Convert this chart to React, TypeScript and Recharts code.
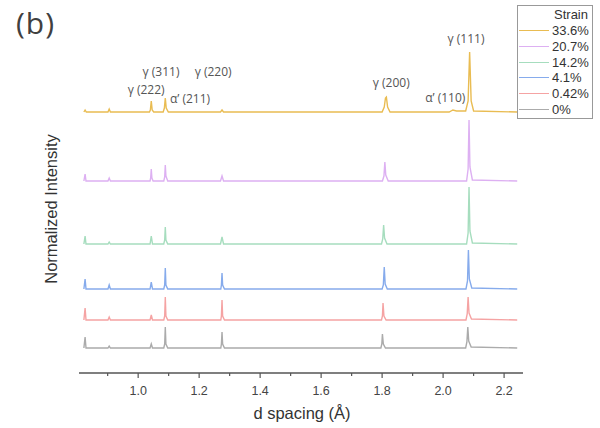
import React from 'react';
import { LineChart, Line, XAxis, YAxis, ReferenceDot } from 'recharts';

// d spacing (Å) vs stacked normalized intensity (offset per strain level)
const strain336 = [
  [0.822, 261], [0.826, 263], [0.830, 261], [0.901, 261], [0.905, 264], [0.909, 261],
  [1.037, 261], [1.040, 263], [1.043, 272], [1.046, 263], [1.051, 261],
  [1.082, 261], [1.086, 265], [1.089, 275], [1.092, 265], [1.099, 261],
  [1.270, 261], [1.275, 263], [1.280, 261],
  [1.800, 261], [1.807, 266], [1.811, 275], [1.814, 276], [1.818, 266], [1.826, 261],
  [2.020, 261], [2.032, 263], [2.044, 262], [2.074, 262], [2.082, 272], [2.087, 321], [2.092, 272], [2.100, 262],
  [2.243, 261],
];
const strain207 = [
  [0.822, 192], [0.826, 199], [0.829, 192], [0.901, 192], [0.905, 195], [0.909, 192],
  [1.039, 192], [1.041, 195], [1.043, 204], [1.045, 195], [1.049, 192],
  [1.084, 192], [1.087, 196], [1.089, 208], [1.091, 197], [1.097, 192],
  [1.270, 192], [1.275, 197], [1.280, 192],
  [1.801, 192], [1.806, 197], [1.809, 211], [1.812, 198], [1.820, 192],
  [2.077, 192], [2.082, 204], [2.085, 253], [2.088, 206], [2.096, 193], [2.243, 192],
];
const strain142 = [
  [0.822, 129], [0.826, 137], [0.829, 129], [0.901, 129], [0.905, 131], [0.909, 129],
  [1.039, 129], [1.043, 137], [1.047, 129],
  [1.084, 129], [1.087, 133], [1.089, 146], [1.091, 133], [1.097, 129],
  [1.270, 129], [1.275, 136], [1.280, 129],
  [1.798, 129], [1.802, 134], [1.805, 148], [1.808, 135], [1.816, 129],
  [2.077, 129], [2.082, 140], [2.085, 186], [2.088, 142], [2.096, 130], [2.243, 129],
];
const strain41 = [
  [0.822, 84], [0.826, 94], [0.829, 84], [0.901, 84], [0.905, 88], [0.909, 84],
  [1.039, 84], [1.043, 91], [1.047, 84],
  [1.084, 84], [1.087, 88], [1.089, 105], [1.091, 88], [1.097, 84],
  [1.271, 84], [1.273, 88], [1.275, 100], [1.277, 88], [1.283, 84],
  [1.800, 84], [1.804, 88], [1.807, 106], [1.810, 89], [1.817, 84],
  [2.075, 84], [2.080, 92], [2.083, 123], [2.086, 94], [2.094, 85], [2.243, 84],
];
const strain042 = [
  [0.822, 53], [0.826, 65], [0.829, 53], [0.901, 53], [0.905, 56], [0.909, 53],
  [1.039, 53], [1.043, 58], [1.047, 53],
  [1.084, 53], [1.087, 57], [1.089, 76], [1.091, 57], [1.097, 53],
  [1.271, 53], [1.273, 57], [1.275, 73], [1.277, 57], [1.283, 53],
  [1.798, 53], [1.801, 57], [1.803, 70], [1.806, 57], [1.813, 53],
  [2.075, 53], [2.079, 59], [2.082, 76], [2.085, 60], [2.093, 54], [2.243, 53],
];
const strain0 = [
  [0.822, 25], [0.826, 36], [0.829, 25], [0.901, 25], [0.905, 27], [0.909, 25],
  [1.039, 25], [1.043, 29], [1.047, 25],
  [1.084, 25], [1.087, 29], [1.089, 46], [1.091, 29], [1.097, 25],
  [1.271, 25], [1.273, 29], [1.275, 41], [1.277, 29], [1.283, 25],
  [1.796, 25], [1.799, 29], [1.801, 39], [1.804, 29], [1.811, 25],
  [2.074, 25], [2.078, 31], [2.081, 46], [2.084, 32], [2.092, 26], [2.243, 25],
];

const strainLabels = ['33.6%', '20.7%', '14.2%', '4.1%', '0.42%', '0%'];
const strainColors = ['#E9BC52', '#DDB0F2', '#A6DDBE', '#86ABEC', '#F5A3A3', '#ABABAB'];
const strainSeries = [strain336, strain207, strain142, strain41, strain042, strain0];

const majorTicks = [1.0, 1.2, 1.4, 1.6, 1.8, 2.0, 2.2];
const minorTicks = [0.9, 1.1, 1.3, 1.5, 1.7, 1.9, 2.1];

// peak labels: [text, d, y]
const peakNotes: [string, number, number][] = [
  ['γ (111)', 2.075, 334],
  ['γ (200)', 1.830, 290],
  ['α’ (110)', 2.007, 275],
  ['γ (222)', 1.026, 283],
  ['γ (311)', 1.075, 301],
  ['γ (220)', 1.246, 301],
  ['α’ (211)', 1.170, 274],
];

const AXIS = '#555';
const TEXT = '#444';

const seriesData = strainSeries.map((s) => s.map(([d, v]) => ({ d, v })));

const DTick = (props: any) => {
  const { x, y, payload } = props;
  const major = majorTicks.includes(payload.value);
  return (
    <g>
      <line x1={x} x2={x} y1={y} y2={y + (major ? 5 : 3)} stroke={AXIS} strokeWidth={1.2} />
      {major && (
        <text x={x} y={y + 22} textAnchor="middle" fontSize={12.5} fill={TEXT} fontFamily="'Liberation Sans', Arial, sans-serif">
          {payload.value.toFixed(1)}
        </text>
      )}
    </g>
  );
};

export default function App() {
  return (
    <div style={{ position: 'absolute', left: 0, top: 0, width: 600, height: 428, background: '#fff', fontFamily: "'Liberation Sans', Arial, sans-serif" }}>
      <LineChart width={600} height={428} margin={{ top: 45, right: 77, bottom: 25, left: 79 }}>
        <XAxis
          type="number"
          dataKey="d"
          domain={[0.806, 2.262]}
          allowDataOverflow
          ticks={[...minorTicks, ...majorTicks].sort((a, b) => a - b)}
          interval={0}
          tickSize={0}
          tickMargin={0}
          tickLine={false}
          tick={<DTick />}
          height={30}
          axisLine={{ stroke: AXIS, strokeWidth: 1.5 }}
        />
        <YAxis
          type="number"
          domain={[0, 328]}
          allowDataOverflow
          width={0}
          tick={false}
          tickLine={false}
          axisLine={{ stroke: AXIS, strokeWidth: 2 }}
        />
        {seriesData.map((data, i) => (
          <Line
            key={strainLabels[i]}
            data={data}
            dataKey="v"
            type="linear"
            stroke={strainColors[i]}
            strokeWidth={1.4}
            dot={false}
            isAnimationActive={false}
          />
        ))}
        {peakNotes.map(([text, d, v]) => (
          <ReferenceDot
            key={text}
            x={d}
            y={v}
            r={0}
            ifOverflow="visible"
            label={{ value: text, position: 'center', fill: '#555', fontSize: 12, fontFamily: "'Open Sans', sans-serif" }}
          />
        ))}
      </LineChart>

      <div style={{ position: 'absolute', left: 16, top: 2, fontSize: 30, color: '#404040', fontFamily: "'Open Sans', sans-serif", letterSpacing: 1 }}>(b)</div>

      <div style={{ position: 'absolute', left: 51, top: 209, transform: 'translate(-50%, -50%) rotate(-90deg)', whiteSpace: 'nowrap', fontSize: 16.5, color: '#333' }}>
        Normalized Intensity
      </div>
      <div style={{ position: 'absolute', left: 302, top: 413, transform: 'translate(-50%, -50%)', whiteSpace: 'nowrap', fontSize: 16.5, color: '#333' }}>
        d spacing (Å)
      </div>

      <div style={{ position: 'absolute', left: 517, top: 5, width: 74, height: 112, border: '1px solid #999', background: '#fff', fontSize: 13, color: '#333' }}>
        <div style={{ textAlign: 'right', paddingRight: 4, lineHeight: '16px', marginTop: 1 }}>Strain</div>
        {strainLabels.map((lab, i) => (
          <div key={lab} style={{ display: 'flex', alignItems: 'center', height: 15.7 }}>
            <div style={{ width: 30, height: 0, borderTop: `1.5px solid ${strainColors[i]}`, marginLeft: 1, marginRight: 3 }} />
            <span style={{ lineHeight: '15px' }}>{lab}</span>
          </div>
        ))}
      </div>
    </div>
  );
}
